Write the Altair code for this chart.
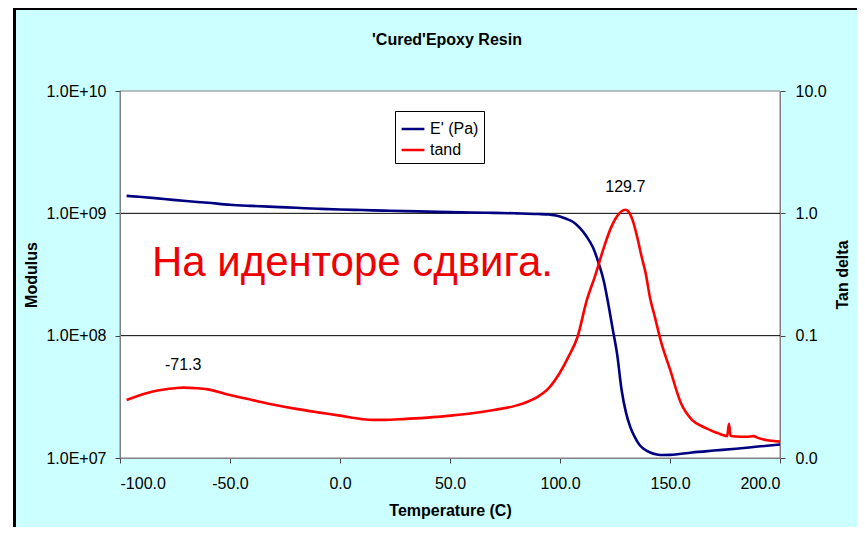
import altair as alt
import pandas as pd

# ---------------- data ----------------
chart_title = ["'Cured'Epoxy Resin"]

temp_E = [-97, -90, -80, -70, -60, -50, -40, -30, -20, -10, 0, 10, 20, 30, 40, 50,
          60, 70, 80, 90, 95, 100, 103, 106, 109, 112, 115, 118, 120, 122, 124, 126,
          128, 130, 132, 134, 136, 138, 141, 144, 147, 150, 160, 170, 180, 190, 200]
modulus = [1.39e9, 1.36e9, 1.31e9, 1.26e9, 1.22e9, 1.175e9, 1.15e9, 1.13e9, 1.11e9,
           1.09e9, 1.074e9, 1.064e9, 1.052e9, 1.042e9, 1.033e9, 1.023e9, 1.016e9,
           1.009e9, 1.0e9, 9.88e8, 9.77e8, 9.44e8, 9.0e8, 8.5e8, 7.6e8, 6.5e8, 5.25e8,
           3.7e8, 2.75e8, 1.8e8, 1.12e8, 7.0e7, 3.6e7, 2.35e7, 1.78e7, 1.48e7, 1.29e7,
           1.19e7, 1.11e7, 1.07e7, 1.057e7, 1.06e7, 1.11e7, 1.15e7, 1.19e7, 1.24e7, 1.29e7]

temp_T = [-97, -90, -85, -80, -75, -71.3, -65, -60, -50, -40, -30, -20, -10, 0, 10, 15,
          20, 30, 40, 50, 60, 70, 80, 85, 90, 95, 100, 104, 108, 112, 116, 120, 123,
          126, 128, 129.7, 131, 133, 135, 137, 139, 141, 143, 146, 150, 155, 160, 165,
          168, 170, 172, 174, 176, 176.8, 177.5, 180, 185, 188, 190, 195, 200]
tand = [0.0298, 0.0330, 0.0350, 0.0363, 0.0372, 0.0376, 0.0372, 0.0364, 0.0327, 0.0298,
        0.0272, 0.0252, 0.0236, 0.0222, 0.0208, 0.0205, 0.0205, 0.0209, 0.0214, 0.0222,
        0.0232, 0.0247, 0.0268, 0.0287, 0.0318, 0.0375, 0.0500, 0.068, 0.098, 0.19,
        0.31, 0.53, 0.75, 0.95, 1.04, 1.07, 1.04, 0.88, 0.65, 0.45, 0.32, 0.20, 0.145,
        0.088, 0.053, 0.028, 0.0205, 0.0180, 0.0170, 0.0164, 0.0159, 0.0154, 0.0151,
        0.0190, 0.0152, 0.0150, 0.0149, 0.0151, 0.0146, 0.0139, 0.0136]

peak_temp = [-71.3, 129.7]
peak_tand = [0.0376, 1.07]
peak_text = ["-71.3", "129.7"]

series = ["E' (Pa)", "tand"]
colors = ["#000080", "#FF0000"]

mod_ticks = [1e7, 1e8, 1e9, 1e10]
tan_ticks = [0.01, 0.1, 1, 10]
temp_ticks = [-100, -50, 0, 50, 100, 150, 200]
grid_vals = [1e8, 1e9]

note_text = ["На иденторе сдвига."]
note_temp = [-85.5]
note_mod = [3.9e8]

# ---------------- chart ----------------
W, H = 660, 367
FONT = "Liberation Sans"

dfE = pd.DataFrame({"temp": temp_E, "value": modulus, "series": series[0]})
dfT = pd.DataFrame({"temp": temp_T, "value": tand, "series": series[1]})
dfP = pd.DataFrame({"temp": peak_temp, "value": peak_tand, "label": peak_text})
dfG = pd.DataFrame({"value": grid_vals})
dfN = pd.DataFrame({"temp": note_temp, "value": note_mod, "label": note_text})
dfTitle = pd.DataFrame({"t": chart_title})
dfOne = pd.DataFrame({"a": [0]})

x_enc = alt.X(
    "temp:Q",
    scale=alt.Scale(domain=[-100, 200], nice=False, zero=False),
    axis=alt.Axis(
        values=temp_ticks,
        labelExpr="(datum.value < 0 ? '-' : '') + format(abs(datum.value), '.1f')",
        title="Temperature (C)", titleFont=FONT, titleFontSize=16, titleFontWeight="bold",
        titleX=W / 2, titleY=52, titleBaseline="middle", titleAlign="center",
        labelFont=FONT, labelFontSize=16, labelColor="black", labelPadding=12,
        tickSize=5, tickColor="#444444", domainColor="#808080", grid=False, zindex=1,
    ),
)

yE_enc = alt.Y(
    "value:Q",
    scale=alt.Scale(type="log", domain=[1e7, 1e10], nice=False),
    axis=alt.Axis(
        orient="left", values=mod_ticks,
        labelExpr="'1.0E+' + (datum.value < 1e10 ? '0' : '') + round(log(datum.value)/LN10)",
        title="Modulus", titleFont=FONT, titleFontSize=16, titleFontWeight="bold",
        titleX=-89, titleY=H / 2, titleAngle=270, titleBaseline="middle", titleAlign="center",
        labelFont=FONT, labelFontSize=16, labelColor="black", labelPadding=9,
        tickSize=5, tickColor="#444444", domainColor="#808080", grid=False, zindex=1,
    ),
)

yT_enc = alt.Y(
    "value:Q",
    scale=alt.Scale(type="log", domain=[0.01, 10], nice=False),
    axis=alt.Axis(
        orient="right", values=tan_ticks, format=".1f",
        title="Tan delta", titleFont=FONT, titleFontSize=16, titleFontWeight="bold",
        titleX=62, titleY=H / 2, titleAngle=270, titleBaseline="middle", titleAlign="center",
        labelFont=FONT, labelFontSize=16, labelColor="black", labelPadding=10,
        tickSize=5, tickColor="#444444", domainColor="#808080", grid=False, zindex=1,
    ),
)

color_enc = alt.Color(
    "series:N",
    scale=alt.Scale(domain=series, range=colors),
    legend=alt.Legend(
        title=None, orient="none", legendX=275, legendY=20, direction="vertical",
        fillColor="white", strokeColor="black", padding=5,
        symbolType="stroke", symbolSize=520, symbolStrokeWidth=2.5,
        labelFont=FONT, labelFontSize=16, labelColor="black", labelOffset=4,
        rowPadding=0, labelLimit=300,
    ),
)

frame = alt.Chart(dfOne).mark_rect(fill="#CCFFFF", stroke="black", strokeWidth=3).encode(
    x=alt.value(-105.5), x2=alt.value(W + 150), y=alt.value(-82.5), y2=alt.value(H + 150)
)
plot_bg = alt.Chart(dfOne).mark_rect(fill="white", stroke="#808080", strokeWidth=1).encode(
    x=alt.value(0), x2=alt.value(W), y=alt.value(0), y2=alt.value(H)
)
title_mark = alt.Chart(dfTitle).mark_text(
    align="center", baseline="middle", font=FONT, fontSize=16, fontWeight="bold", color="black"
).encode(x=alt.value(327), y=alt.value(-51), text="t:N")

grid = alt.Chart(dfG).mark_rule(color="black", strokeWidth=1).encode(y=yE_enc)

blue = alt.Chart(dfE).mark_line(strokeWidth=2.6, interpolate="monotone").encode(
    x=x_enc, y=yE_enc, color=color_enc
)
note = alt.Chart(dfN).mark_text(
    align="left", baseline="middle", font=FONT, fontSize=42, color="#EE0000"
).encode(x=x_enc, y=yE_enc, text="label:N")

red = alt.Chart(dfT).mark_line(strokeWidth=2.6, interpolate="monotone").encode(
    x=x_enc, y=yT_enc, color=color_enc
)
peaks = alt.Chart(dfP).mark_text(
    align="center", baseline="middle", dy=-23, font=FONT, fontSize=16, color="black"
).encode(x=x_enc, y=yT_enc, text="label:N")

left = alt.layer(frame, plot_bg, title_mark, grid, blue, note)
right = alt.layer(red, peaks)

chart = (
    alt.layer(left, right)
    .resolve_scale(y="independent")
    .properties(
        width=W, height=H,
        padding={"left": 112, "top": 83, "right": 77, "bottom": 69},
        autosize=alt.AutoSizeParams(type="none"),
        background="white",
    )
    .configure_view(stroke=None)
)

chart.save("out.html", embed_options={"renderer": "svg", "actions": False})
